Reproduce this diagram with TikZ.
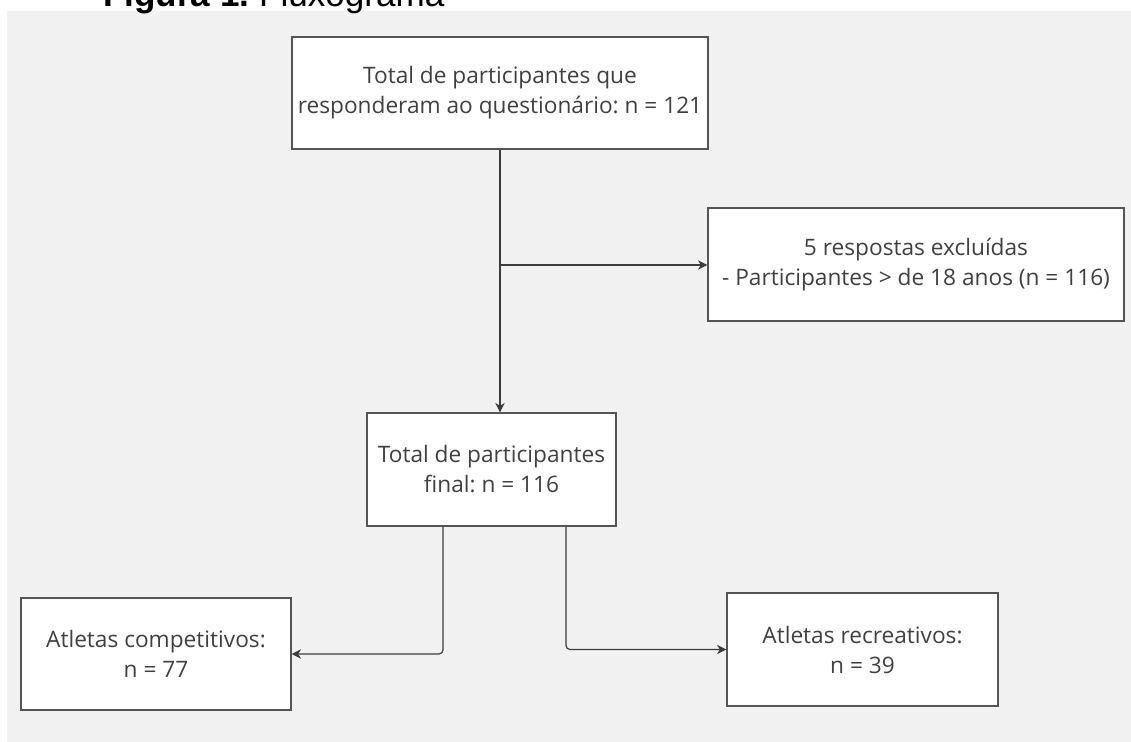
\documentclass[tikz,border=0pt]{standalone}
\usepackage{fontspec}
\setmainfont{Open Sans}
\newfontfamily\titlefont{Liberation Sans}
\usetikzlibrary{arrows.meta}
\frenchspacing
\definecolor{bggray}{RGB}{241,241,241}
\definecolor{boxline}{RGB}{85,85,85}
\definecolor{txtgray}{RGB}{64,64,64}
\definecolor{arrgray}{RGB}{60,60,60}
\tikzset{
  flowbox/.style={draw=boxline, line width=1.1pt, fill=white, align=center,
    text=txtgray, font=\fontsize{17pt}{22.5pt}\selectfont, inner sep=0pt},
  flowarrow/.style={draw=arrgray, line width=0.9pt, rounded corners=3pt,
    -{Stealth[length=7pt,width=7pt]}}
}

\begin{document}
\begin{tikzpicture}[x=0.75pt,y=0.75pt,yscale=-1,xscale=1]
\useasboundingbox (0,0) rectangle (1131,742);
\fill[bggray] (7,11) rectangle (1131,742);
\node[anchor=base west, inner sep=0pt, font=\titlefont\fontsize{26.3pt}{30pt}\selectfont] (title) at (103,7) {\textbf{Figura 1.} Fluxograma};

\node[flowbox, minimum width=312pt, minimum height=84pt] (total) at (500,93) {Total de participantes que\\responderam ao questionário: n = 121};
\node[flowbox, minimum width=312pt, minimum height=84.75pt] (excl) at (916,264.5) {5 respostas excluídas\\- Participantes > de 18 anos (n = 116)};
\node[flowbox, minimum width=186.75pt, minimum height=84.75pt] (final) at (491.5,469.5) {Total de participantes\\final: n = 116};
\node[flowbox, minimum width=202.5pt, minimum height=84pt] (comp) at (156,654) {Atletas competitivos:\\n = 77};
\node[flowbox, minimum width=203.25pt, minimum height=84.75pt] (recr) at (862.5,649.5) {Atletas recreativos:\\n = 39};

\coordinate (split) at (500,265);
\draw[flowarrow] (total.south) -- (total.south |- final.north);
\draw[flowarrow] (split) -- (split -| excl.west);
\draw[flowarrow] (final.south -| 443,0) |- (comp.east);
\draw[flowarrow] (final.south -| 566,0) |- (recr.west);
\end{tikzpicture}
\end{document}
